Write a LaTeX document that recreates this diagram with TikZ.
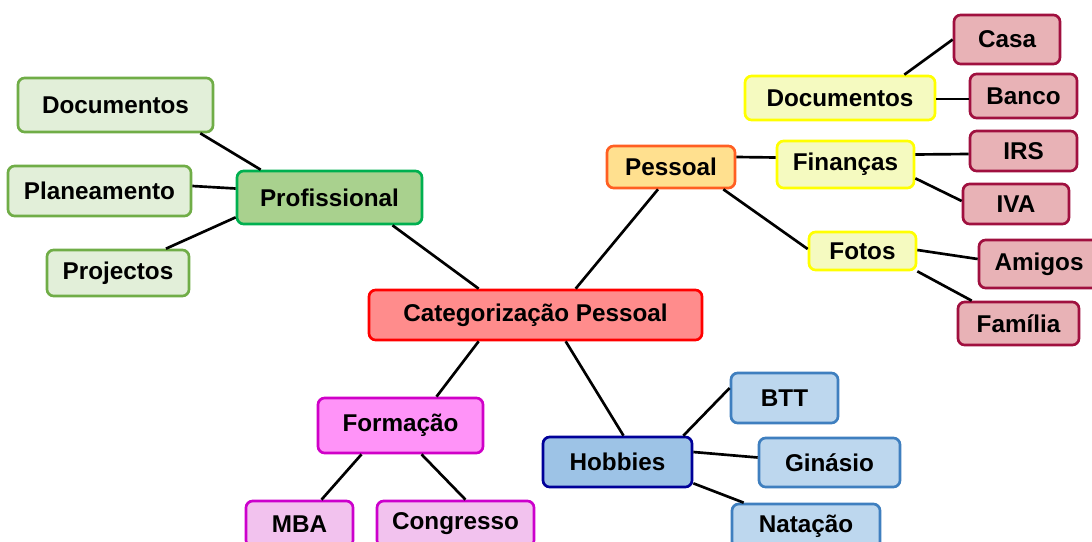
\documentclass[tikz,border=0pt]{standalone}
\usepackage{fontspec}
\setmainfont{Liberation Sans}
\usetikzlibrary{calc}
\definecolor{cenfill}{HTML}{FF8C8C}
\definecolor{cenline}{HTML}{FF0000}
\definecolor{proffill}{HTML}{A9D18E}
\definecolor{profline}{HTML}{00B050}
\definecolor{gfill}{HTML}{E2EFD9}
\definecolor{gline}{HTML}{70AD47}
\definecolor{pessfill}{HTML}{FFE08F}
\definecolor{pessline}{HTML}{FF5F22}
\definecolor{yfill}{HTML}{F5FAC0}
\definecolor{yline}{HTML}{FFFF00}
\definecolor{rfill}{HTML}{E8B2B6}
\definecolor{rline}{HTML}{A0103F}
\definecolor{formfill}{HTML}{FF93F8}
\definecolor{formline}{HTML}{D000C8}
\definecolor{mfill}{HTML}{F2C2EE}
\definecolor{mline}{HTML}{CC00CC}
\definecolor{hobfill}{HTML}{9DC3E6}
\definecolor{hobline}{HTML}{000099}
\definecolor{bfill}{HTML}{BDD7EE}
\definecolor{bline}{HTML}{3F7FBF}
\tikzset{
  mm/.style={draw, rounded corners=5pt, line width=2pt, inner sep=0pt,
    font=\fontsize{18.2}{20}\selectfont\bfseries, text=black},
  sz/.style 2 args={minimum width=#1*0.75pt, minimum height=#2*0.75pt},
  cen/.style={mm, fill=cenfill, draw=cenline},
  prof/.style={mm, fill=proffill, draw=profline},
  gleaf/.style={mm, fill=gfill, draw=gline},
  pess/.style={mm, fill=pessfill, draw=pessline},
  yel/.style={mm, fill=yfill, draw=yline},
  rleaf/.style={mm, fill=rfill, draw=rline},
  form/.style={mm, fill=formfill, draw=formline},
  mleaf/.style={mm, fill=mfill, draw=mline},
  hob/.style={mm, fill=hobfill, draw=hobline},
  bleaf/.style={mm, fill=bfill, draw=bline},
  link/.style={line width=2pt, black}
}
\begin{document}
\begin{tikzpicture}[x=0.75pt, y=-0.75pt]
\clip (0,0) rectangle (1092,542);
\fill[white] (0,0) rectangle (1092,542);
% nodes
\node[cen, sz={333}{50}] (cen) at (535.5,315) {Categorização Pessoal};
\node[prof, sz={185}{53}] (prof) at (329.5,197.5) {Profissional};
\node[gleaf, sz={195}{54}] (gdoc) at (115.5,105) {Documentos};
\node[gleaf, sz={183}{50}] (plan) at (99.5,191) {Planeamento};
\node[gleaf, sz={142}{46}] (proj) at (118,273) {Projectos};
\node[pess, sz={128}{42}] (pess) at (671,167) {Pessoal};
\node[yel, sz={190}{44}] (ydoc) at (840,98) {Documentos};
\node[yel, sz={137}{47}] (fin) at (845.5,164.5) {Finanças};
\node[yel, sz={107}{38}] (fotos) at (862.5,251) {Fotos};
\node[rleaf, sz={106}{49}] (casa) at (1007,39.5) {Casa};
\node[rleaf, sz={107}{44}] (banco) at (1023.5,96) {Banco};
\node[rleaf, sz={107}{40}] (irs) at (1023.5,151) {IRS};
\node[rleaf, sz={106}{40}] (iva) at (1016,204) {IVA};
\node[rleaf, sz={120}{48}] (amigos) at (1039,264) {Amigos};
\node[rleaf, sz={121}{43}] (familia) at (1018.5,323.5) {Família};
\node[form, sz={165}{55}] (form) at (400.5,425.5) {Formação};
\node[mleaf, sz={107}{46}] (mba) at (299.5,524) {MBA};
\node[mleaf, sz={157}{46}] (cong) at (455.5,524) {Congresso};
\node[hob, sz={149}{50}] (hob) at (617.5,462) {Hobbies};
\node[bleaf, sz={107}{50}] (btt) at (784.5,398) {BTT};
\node[bleaf, sz={141}{49}] (gin) at (829.5,462.5) {Ginásio};
\node[bleaf, sz={148}{44}] (nat) at (806,526) {Natação};
% connectors
\draw[link] ($(prof.north west)+(25,0)$) -- ($(gdoc.south east)+(-14,0)$);
\draw[link] ($(plan.east)+(0,-5)$) -- ($(prof.west)+(0,-9)$);
\draw[link] ($(proj.north)+(48,0)$) -- ($(prof.south west)+(0,-8)$);
\draw[link] ($(prof.south)+(63,0)$) -- ($(cen.north west)+(111,0)$);
\draw[link] ($(cen.north west)+(208,0)$) -- ($(pess.south)+(-13,0)$);
\draw[link] ($(cen.south west)+(111,0)$) -- ($(form.north)+(36,0)$);
\draw[link] ($(cen.south west)+(198,0)$) -- ($(hob.north)+(6,0)$);
\draw[link] ($(pess.east)+(0,-10)$) -- ($(fin.west)+(0,-7)$);
\draw[link] ($(pess.south east)+(-13,0)$) -- ($(fotos.west)+(0,-2)$);
\draw[link] ($(ydoc.north east)+(-32,0)$) -- (casa.west);
\draw[link] ($(ydoc.east)+(0,1)$) -- ($(banco.west)+(0,3)$);
\draw[link] ($(fin.east)+(0,-10)$) -- ($(irs.west)+(0,3)$);
\draw[link] ($(fin.south east)+(0,-11)$) -- ($(iva.west)+(0,-3)$);
\draw[link] ($(fotos.east)+(0,-1)$) -- ($(amigos.west)+(0,-5)$);
\draw[link] (fotos.south east) -- ($(familia.north west)+(15,0)$);
\draw[link] ($(form.south)+(-39,0)$) -- ($(mba.north)+(22,0)$);
\draw[link] ($(form.south)+(21,0)$) -- ($(cong.north)+(10,0)$);
\draw[link] ($(hob.north east)+(-10,0)$) -- ($(btt.west)+(0,-10)$);
\draw[link] ($(hob.east)+(0,-10)$) -- ($(gin.west)+(0,-5)$);
\draw[link] ($(hob.south east)+(0,-5)$) -- ($(nat.north west)+(13,0)$);
\end{tikzpicture}
\end{document}
